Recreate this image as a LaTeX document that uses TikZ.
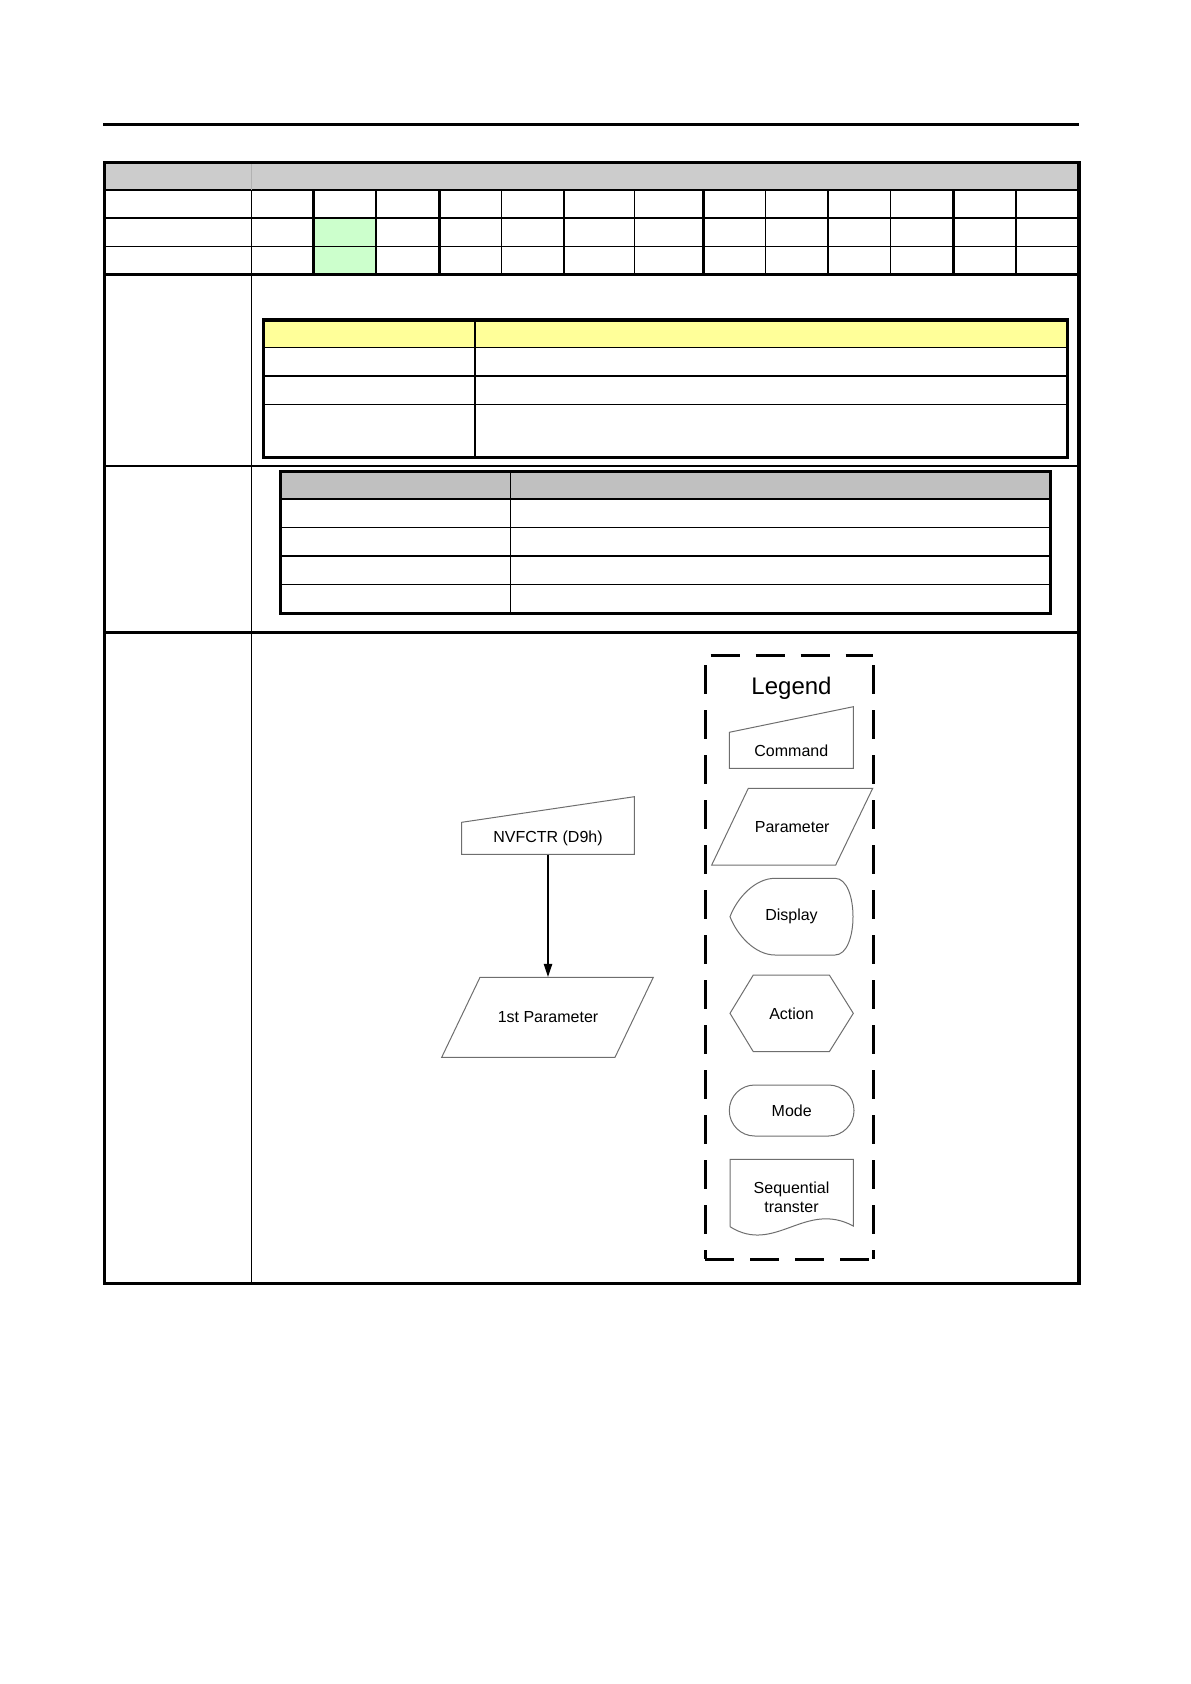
\documentclass[tikz,border=0pt]{standalone}
\usepackage{fontspec}
\setmainfont{Liberation Sans}
\usetikzlibrary{arrows.meta}
\definecolor{headgray}{RGB}{204, 204, 204}
\definecolor{subgray}{RGB}{192, 192, 192}
\definecolor{lightyellow}{RGB}{255, 255, 153}
\definecolor{lightgreen}{RGB}{204, 255, 204}
\definecolor{shapegray}{RGB}{110, 110, 110}

\begin{document}
\begin{tikzpicture}[
    x=0.5pt, y=-0.5pt,
    thinrule/.style={line width=0.6pt},
    thickrule/.style={line width=1.3pt},
    frame/.style={line width=1.6pt},
    outline/.style={draw=shapegray, line width=0.5pt},
    txt/.style={font=\fontsize{8}{9.5}\selectfont, inner sep=0pt, align=center},
    legendline/.style={line width=1.5pt, dash pattern=on 14.5pt off 8pt},
    flow/.style={-{Triangle[length=6.5pt, width=4.2pt]}, line width=0.6pt}
]
    \useasboundingbox (0,0) rectangle (1190,1684);
    % Page rule
    \draw[line width=1.2pt] (103,124.7) -- (1079,124.7);

    % Cell fills
    \fill[headgray] (104.3,162.5) rectangle (1079,190);
    \fill[lightgreen] (313.6,218) rectangle (375.9,274.7);
    \fill[lightyellow] (263.1,320) rectangle (1067.6,347.3);
    \fill[subgray] (280.3,471.7) rectangle (1050.4,499);

    % Bit grid
    \foreach \xx in {375.9, 501.6, 563.9, 634.7, 765.8, 890.3, 1016}
        \draw[thinrule] (\xx,190) -- (\xx,274.7);
    \foreach \xx in {313.6, 439.3, 703.5, 828.1, 953.7}
        \draw[thickrule] (\xx,190) -- (\xx,274.7);
    \draw[thinrule] (104.3,246.3) -- (1079,246.3);
    \draw[thinrule] (104.3,466) -- (1079,466);
    \foreach \yy in {190, 218, 274.7, 632.7}
        \draw[thickrule] (104.3,\yy) -- (1079,\yy);
    \draw[thinrule, gray!60] (251.5,162.5) -- (251.5,190);
    \draw[thinrule] (251.5,190) -- (251.5,1283.4);

    % Yellow table
    \foreach \yy in {347.3, 376, 404.3}
        \draw[thinrule] (263.1,\yy) -- (1067.6,\yy);
    \draw[thinrule] (475,320) -- (475,457.4);
    \draw[frame] (263.1,320) rectangle (1067.6,457.4);

    % Gray table
    \foreach \yy in {499, 527.7, 584.3}
        \draw[thinrule] (280.3,\yy) -- (1050.4,\yy);
    \draw[thickrule] (280.3,556) -- (1050.4,556);
    \draw[thinrule] (510.5,471.7) -- (510.5,613.3);
    \draw[frame] (280.3,471.7) rectangle (1050.4,613.3);

    % Outer frame
    \draw[frame] (104.3,162.5) rectangle (1079,1283.4);

    % Flow
    \node[txt, minimum width=86.3pt, minimum height=16pt] (nvfctr) at (548,838.3) {NVFCTR (D9h)};
    \draw[outline] (461.7,854.3) -- (461.7,822.3) -- (634.3,796.7) -- (634.3,854.3) -- cycle;
    \node[txt, minimum width=86.5pt, minimum height=40pt] (param1) at (548,1017.3) {1st Parameter};
    \draw[outline] (480,977.3) -- (653.3,977.3) -- (615,1057.3) -- (441.7,1057.3) -- cycle;
    \draw[flow] (nvfctr.south) -- (param1.north);

    % Legend
    \draw[legendline, dash phase=19.7pt] (705,655.7) -- (873.3,655.7);
    \draw[legendline] (705,1259.3) -- (873.3,1259.3);
    \draw[legendline, dash phase=17.8pt] (705,655.7) -- (705,1259.3);
    \draw[legendline, dash phase=17.8pt] (873.3,655.7) -- (873.3,1259.3);
    \node[font=\fontsize{12}{14}\selectfont, anchor=base, inner sep=0pt] (legend) at (791.5,694.3) {Legend};

    \node[txt, minimum width=62pt, minimum height=18pt] (lgcmd) at (791.3,750.3) {Command};
    \draw[outline] (729.3,768.3) -- (729.3,732.3) -- (853.3,706.7) -- (853.3,768.3) -- cycle;

    \node[txt] (lgparam) at (792.2,826.7) {Parameter};
    \draw[outline] (748.3,788.3) -- (872.7,788.3) -- (835.7,865) -- (711.7,865) -- cycle;

    \node[txt] (lgdisp) at (791.5,916.7) {Display};
    \draw[outline] (775,878.3) -- (835,878.3) .. controls (859,878.3) and (859,955) .. (835,955)
        -- (775,955) .. controls (755,955) and (737,935) .. (730,916.7)
        .. controls (737,898) and (755,878.3) .. (775,878.3);

    \node[txt] (lgact) at (791.5,1013.3) {Action};
    \draw[outline] (753.3,975) -- (829.3,975) -- (853.3,1013.3) -- (829.3,1051.7)
        -- (753.3,1051.7) -- (730,1013.3) -- cycle;

    \node[txt] (lgmode) at (791.7,1110.5) {Mode};
    \draw[outline, rounded corners=12.7pt] (729.3,1085) rectangle (854,1136);

    \node[txt] (lgseq) at (791.5,1197) {Sequential\\transter};
    \draw[outline] (730,1226.7) -- (730,1159.3) -- (853.3,1159.3) -- (853.3,1226)
        .. controls (805,1200) and (775,1255) .. (730,1226.7);
\end{tikzpicture}
\end{document}
